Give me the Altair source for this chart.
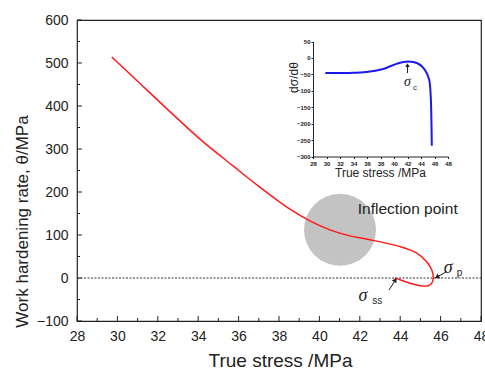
import altair as alt
import pandas as pd

# Main curve: work hardening rate vs true stress
red_x = [29.72, 30.79, 32.44, 34.09, 35.74, 37.03, 38.54, 39.53, 40.52, 41.51, 42.5, 43.99,
         44.82, 45.31, 45.56, 45.64, 45.56, 45.39, 44.98, 44.49, 43.99, 43.74]
red_y = [514, 467, 394, 323, 260, 212, 160, 133, 112, 98, 89, 73,
         58, 38, 19, 0, -12, -18, -18, -12, -4, 0]

# Inset curve: dσ/dθ vs true stress
blue_x = [29.82, 33.5, 35.9, 38.4, 40.36, 42.07, 43.56, 44.55, 45.2, 45.44, 45.55, 45.6]
blue_y = [-45.6, -45.6, -43, -33.5, -18, -11, -17, -35.6, -66, -117, -198, -267]

x_major = [28, 30, 32, 34, 36, 38, 40, 42, 44, 46, 48]
x_minor = [29, 31, 33, 35, 37, 39, 41, 43, 45, 47]
y_major = [-100, 0, 100, 200, 300, 400, 500, 600]
y_minor = [-50, 50, 150, 250, 350, 450, 550]

circle_x = [41.02]
circle_y = [112]

FONT = "Liberation Sans"
SERIF = "Liberation Serif"
W, H = 404, 301

red_df = pd.DataFrame({"x": red_x, "y": red_y, "i": list(range(len(red_x)))})
blue_df = pd.DataFrame({"x": blue_x, "y": blue_y, "i": list(range(len(blue_x)))})

xs = alt.Scale(domain=[28, 48], nice=False, zero=False)
ys = alt.Scale(domain=[-100, 600], nice=False, zero=False)

X = alt.X("x:Q", scale=xs, axis=alt.Axis(
    values=x_major, ticks=False, grid=False, domain=False, labelFont=FONT, labelFontSize=14,
    labelColor="#222", labelPadding=8, title="True stress /MPa", titleFont=FONT,
    titleFontSize=19, titleFontWeight="normal", titleColor="#222",
    titleX=203, titleY=45, titleBaseline="alphabetic", labelFlush=False))
Y = alt.Y("y:Q", scale=ys, axis=alt.Axis(
    values=y_major, ticks=False, grid=False, domain=False, labelFont=FONT, labelFontSize=14,
    labelColor="#222", labelPadding=9, title="Work hardening rate, θ/MPa", titleFont=FONT,
    titleFontSize=17, titleFontWeight="normal", titleColor="#222",
    titleX=-55, titleY=201, titleBaseline="middle", titleAlign="center", titleAngle=-90,
    labelFlush=False))

circle = alt.Chart(pd.DataFrame({"x": circle_x, "y": circle_y})).mark_point(
    shape="circle", filled=True, size=5184, color="#c3c3c3", opacity=1
).encode(x=X, y=Y)

zero = alt.Chart(pd.DataFrame({"x": [28], "x2": [48], "y": [0]})).mark_rule(
    color="#333", strokeDash=[2, 1.5], strokeWidth=1
).encode(x=alt.X("x:Q", scale=xs), x2="x2:Q", y=alt.Y("y:Q", scale=ys))

red = alt.Chart(red_df).mark_line(color="#ff1a1a", strokeWidth=1.5, interpolate="catmull-rom").encode(
    x=alt.X("x:Q", scale=xs), y=alt.Y("y:Q", scale=ys), order="i:Q")

xt_major = alt.Chart(pd.DataFrame({"x": x_major})).mark_rule(color="#222").encode(
    x=alt.X("x:Q", scale=xs), y=alt.value(H), y2=alt.value(H - 5))
xt_minor = alt.Chart(pd.DataFrame({"x": x_minor})).mark_rule(color="#222").encode(
    x=alt.X("x:Q", scale=xs), y=alt.value(H), y2=alt.value(H - 3))
yt_major = alt.Chart(pd.DataFrame({"y": y_major})).mark_rule(color="#222").encode(
    y=alt.Y("y:Q", scale=ys), x=alt.value(0), x2=alt.value(5))
yt_minor = alt.Chart(pd.DataFrame({"y": y_minor})).mark_rule(color="#222").encode(
    y=alt.Y("y:Q", scale=ys), x=alt.value(0), x2=alt.value(3))

labels_df = pd.DataFrame({
    "x": [41.9, 46.37, 42.16],
    "y": [150, 23.6, -41.8],
    "t": ["Inflection point", "σ", "σ"],
})
infl = alt.Chart(labels_df.iloc[[0]]).mark_text(
    font=FONT, fontSize=15.5, align="left", baseline="alphabetic", color="#222"
).encode(x=alt.X("x:Q", scale=xs), y=alt.Y("y:Q", scale=ys), text="t:N")
sig = alt.Chart(labels_df.iloc[[1, 2]]).mark_text(
    font=SERIF, fontSize=18, fontStyle="italic", align="center", baseline="middle", color="#222"
).encode(x=alt.X("x:Q", scale=xs), y=alt.Y("y:Q", scale=ys), text="t:N")
sub_df = pd.DataFrame({"x": [46.8, 42.62], "y": [11.5, -53.4], "t": ["p", "ss"]})
sub = alt.Chart(sub_df).mark_text(
    font=FONT, fontSize=10, align="left", baseline="middle", color="#222"
).encode(x=alt.X("x:Q", scale=xs), y=alt.Y("y:Q", scale=ys), text="t:N")

arrows_df = pd.DataFrame({
    "x": [46.3, 43.45], "y": [15, -28], "x2": [45.85, 43.74], "y2": [3, -6], "ang": [241, 32]})
arr_line = alt.Chart(arrows_df).mark_rule(color="#222", strokeWidth=1).encode(
    x=alt.X("x:Q", scale=xs), y=alt.Y("y:Q", scale=ys), x2="x2:Q", y2="y2:Q")
arr_head = alt.Chart(arrows_df).mark_point(shape="triangle", filled=True, size=30, color="#222", opacity=1).encode(
    x=alt.X("x2:Q", scale=xs), y=alt.Y("y2:Q", scale=ys), angle=alt.Angle("ang:Q", scale=None))

main = alt.layer(circle, zero, red, xt_major, xt_minor, yt_major, yt_minor,
                 infl, sig, sub, arr_line, arr_head).encode(x=X, y=Y)

# Inset
ixs = alt.Scale(domain=[28, 48], nice=False, zero=False, range=[236, 371])
iys = alt.Scale(domain=[-300, 50], nice=False, zero=False, range=[136.5, 21.5])
IX = alt.X("x:Q", scale=ixs, axis=alt.Axis(
    orient="bottom", offset=-164.5, values=x_major, grid=False, tickSize=2, domainColor="#222",
    tickColor="#222", labelFont=FONT, labelFontSize=6, labelFontWeight="bold", labelPadding=2,
    labelColor="#222", title="True stress /MPa", titleFont=FONT, titleFontSize=12,
    titleFontWeight="normal", titleColor="#222", titleX=303, titleY=11, labelFlush=False))
IY = alt.Y("y:Q", scale=iys, axis=alt.Axis(
    orient="left", offset=-236, values=[-300, -250, -200, -150, -100, -50, 0, 50], grid=False,
    tickSize=2, domainColor="#222", tickColor="#222", labelFont=FONT, labelFontSize=6,
    labelFontWeight="bold", labelPadding=1, labelColor="#222", title="dσ/dθ", titleFont=FONT,
    titleFontSize=12, titleFontWeight="normal", titleColor="#222", titleX=-20, titleY=57,
    titleAngle=-90, titleBaseline="middle", titleAlign="center", labelFlush=False))

blue = alt.Chart(blue_df).mark_line(color="#1a1aee", strokeWidth=2, interpolate="catmull-rom").encode(
    x=IX, y=IY, order="i:Q")
ic_df = pd.DataFrame({"x": [42.0], "y": [-74.0], "t": ["σ"]})
isig = alt.Chart(ic_df).mark_text(
    font=SERIF, fontSize=14, fontStyle="italic", align="center", baseline="middle", color="#222"
).encode(x=alt.X("x:Q", scale=ixs), y=alt.Y("y:Q", scale=iys), text="t:N")
isub = alt.Chart(pd.DataFrame({"x": [42.8], "y": [-93.0], "t": ["c"]})).mark_text(
    font=FONT, fontSize=8, align="left", baseline="middle", color="#222"
).encode(x=alt.X("x:Q", scale=ixs), y=alt.Y("y:Q", scale=iys), text="t:N")
iarr_df = pd.DataFrame({"x": [42.0], "y": [-46.0], "y2": [-22.0]})
iarr_line = alt.Chart(iarr_df).mark_rule(color="#222", strokeWidth=1).encode(
    x=alt.X("x:Q", scale=ixs), y=alt.Y("y:Q", scale=iys), y2="y2:Q")
iarr_head = alt.Chart(iarr_df).mark_point(shape="triangle-up", filled=True, size=20, color="#222", opacity=1).encode(
    x=alt.X("x:Q", scale=ixs), y=alt.Y("y2:Q", scale=iys))

inset = alt.layer(blue, isig, isub, iarr_line, iarr_head).encode(x=IX, y=IY)

chart = alt.layer(main, inset).resolve_scale(x="independent", y="independent").properties(
    width=W, height=H,
    autosize=alt.AutoSizeParams(type="none"),
    padding={"left": 77, "top": 20, "right": 4, "bottom": 49},
).configure_view(stroke="#222", strokeWidth=1.2)

chart.save("out.html", embed_options={"renderer": "svg", "actions": False})
